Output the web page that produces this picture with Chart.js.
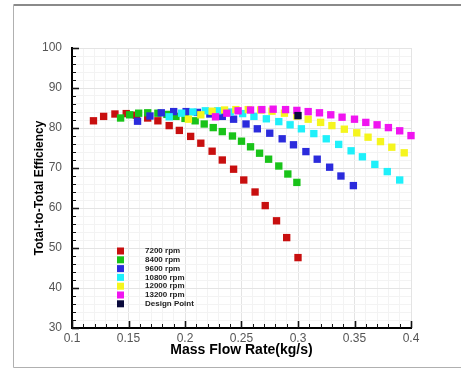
<!DOCTYPE html>
<html>
<head>
<meta charset="utf-8">
<script src="https://cdn.jsdelivr.net/npm/chart.js@4/dist/chart.umd.min.js"></script>
<style>
    body { margin: 0; background: #fff; }
    #chartBox { position: relative; width: 461px; height: 368px; }
</style>
</head>
<body>
<div id="chartBox"><canvas id="effChart" width="461" height="368"></canvas></div>
<script>
// series names (legend order)
const seriesNames = ['7200 rpm', '8400 rpm', '9600 rpm', '10800 rpm', '12000 rpm', '13200 rpm', 'Design Point'];
const seriesColors = ['#c80f0f', '#19c319', '#2b2bdc', '#1ff0fa', '#f5f51e', '#f014f0', '#0a0a3c'];

// mass flow rate (kg/s) and total-to-total efficiency (%) per speed line
const flow7200 = [0.119, 0.128, 0.138, 0.148, 0.157, 0.167, 0.176, 0.186, 0.195, 0.205, 0.214, 0.224, 0.233, 0.243, 0.252, 0.262, 0.271, 0.281, 0.290, 0.300];
const eff7200 = [81.8, 82.9, 83.5, 83.6, 83.2, 82.5, 81.8, 80.6, 79.4, 77.9, 76.2, 74.2, 72.0, 69.7, 67.0, 64.0, 60.6, 56.8, 52.6, 47.6];

const flow8400 = [0.143, 0.151, 0.159, 0.167, 0.176, 0.184, 0.192, 0.200, 0.209, 0.217, 0.225, 0.233, 0.242, 0.250, 0.258, 0.266, 0.274, 0.283, 0.291, 0.299];
const eff8400 = [82.5, 83.3, 83.7, 83.8, 83.7, 83.4, 82.9, 82.4, 81.8, 81.0, 80.1, 79.1, 78.0, 76.7, 75.3, 73.7, 72.2, 70.5, 68.5, 66.4];

const flow9600 = [0.158, 0.169, 0.179, 0.190, 0.201, 0.211, 0.222, 0.233, 0.243, 0.254, 0.264, 0.275, 0.286, 0.296, 0.307, 0.317, 0.328, 0.338, 0.349];
const eff9600 = [81.7, 83.0, 83.8, 84.1, 84.1, 83.9, 83.5, 82.9, 82.2, 81.0, 79.8, 78.7, 77.3, 75.8, 74.1, 72.2, 70.2, 68.0, 65.6];

const flow10800 = [0.186, 0.197, 0.207, 0.218, 0.229, 0.240, 0.251, 0.261, 0.272, 0.283, 0.293, 0.303, 0.314, 0.325, 0.336, 0.347, 0.357, 0.368, 0.379, 0.390];
const eff10800 = [82.8, 83.7, 84.0, 84.3, 84.3, 84.0, 83.6, 82.9, 82.3, 81.6, 80.8, 79.8, 78.6, 77.3, 75.9, 74.3, 72.8, 70.9, 69.1, 67.0];

const flow12000 = [0.203, 0.214, 0.224, 0.235, 0.245, 0.256, 0.267, 0.277, 0.288, 0.299, 0.309, 0.320, 0.330, 0.341, 0.352, 0.362, 0.373, 0.383, 0.394];
const eff12000 = [82.2, 83.3, 84.2, 84.5, 84.6, 84.6, 84.5, 84.2, 83.7, 83.0, 82.2, 81.4, 80.6, 79.7, 78.8, 77.7, 76.6, 75.2, 73.8];

const flow13200 = [0.227, 0.237, 0.247, 0.258, 0.268, 0.278, 0.289, 0.299, 0.309, 0.319, 0.329, 0.339, 0.350, 0.360, 0.370, 0.380, 0.390, 0.400];
const eff13200 = [82.8, 83.7, 84.3, 84.5, 84.6, 84.7, 84.6, 84.4, 84.1, 83.8, 83.3, 82.7, 82.2, 81.4, 80.8, 80.1, 79.3, 78.1];

const designFlow = [0.300];
const designEff = [83.1];

const allFlows = [flow7200, flow8400, flow9600, flow10800, flow12000, flow13200, designFlow];
const allEffs = [eff7200, eff8400, eff9600, eff10800, eff12000, eff13200, designEff];

function toPoints(xs, ys) {
    return xs.map((x, i) => ({ x: x, y: ys[i] }));
}

const datasets = seriesNames.map((name, i) => ({
    label: name,
    data: toPoints(allFlows[i], allEffs[i]),
    backgroundColor: seriesColors[i],
    borderColor: seriesColors[i],
    borderWidth: 0,
    pointStyle: 'rect',
    pointRadius: 5.2,
    pointHoverRadius: 5.2,
    clip: false,
    order: seriesNames.length - 1 - i   // later series sit on top
}));

function isMajorX(v) { return Math.round(v * 100) % 5 === 0; }
function isMajorY(v) { return Math.round(v) % 10 === 0; }

// frame around the figure, in-pointing tick marks and the inset legend
const decorPlugin = {
    id: 'decor',
    beforeDraw(chart) {
        const ctx = chart.ctx;
        ctx.save();
        ctx.fillStyle = '#fff';
        ctx.fillRect(0, 0, chart.width, chart.height);
        ctx.strokeStyle = '#8a8a8a';
        ctx.lineWidth = 2;
        ctx.beginPath();
        ctx.moveTo(461, 5);
        ctx.lineTo(13.5, 5);
        ctx.stroke();
        ctx.strokeStyle = '#b0b0b0';
        ctx.lineWidth = 1;
        ctx.beginPath();
        ctx.moveTo(13.5, 5);
        ctx.lineTo(13.5, 367.5);
        ctx.lineTo(461, 367.5);
        ctx.stroke();
        ctx.restore();
    },
    afterDatasetsDraw(chart) {
        const ctx = chart.ctx;
        const xs = chart.scales.x;
        const ys = chart.scales.y;
        const area = chart.chartArea;
        ctx.save();
        ctx.strokeStyle = '#111';
        xs.ticks.forEach(t => {
            const px = Math.round(xs.getPixelForValue(t.value)) + 0.5;
            const major = isMajorX(t.value);
            ctx.lineWidth = major ? 1.6 : 1;
            ctx.beginPath();
            ctx.moveTo(px, area.bottom);
            ctx.lineTo(px, area.bottom - (major ? 7 : 4));
            ctx.stroke();
        });
        ys.ticks.forEach(t => {
            const py = Math.round(ys.getPixelForValue(t.value)) + 0.5;
            const major = isMajorY(t.value);
            ctx.lineWidth = major ? 1.6 : 1;
            ctx.beginPath();
            ctx.moveTo(area.left, py);
            ctx.lineTo(area.left + (major ? 7 : 4), py);
            ctx.stroke();
        });

        // legend
        ctx.font = 'bold 8px "Liberation Sans", Arial, sans-serif';
        ctx.textBaseline = 'middle';
        ctx.textAlign = 'left';
        chart.data.datasets.forEach((ds, i) => {
            const y = 251 + i * 8.8;
            ctx.fillStyle = ds.backgroundColor;
            ctx.fillRect(117, y - 3.5, 7, 7);
            ctx.fillStyle = '#222';
            ctx.fillText(ds.label, 145, y);
        });
        ctx.restore();
    }
};

const ctx = document.getElementById('effChart').getContext('2d');

const effChart = new Chart(ctx, {
    type: 'scatter',
    data: { datasets: datasets },
    plugins: [decorPlugin],
    options: {
        responsive: false,
        animation: false,
        layout: { padding: { top: 48, right: 50, left: 0, bottom: 0 } },
        plugins: {
            legend: { display: false },
            tooltip: { enabled: false }
        },
        scales: {
            x: {
                type: 'linear',
                min: 0.1,
                max: 0.4,
                afterFit: function (scale) { scale.height = 40; },
                border: { display: true, color: '#000', width: 2 },
                grid: {
                    drawTicks: false,
                    color: c => isMajorX(c.tick.value) ? '#e4e4e4' : '#f3f3f3',
                    lineWidth: 1
                },
                ticks: {
                    stepSize: 0.01,
                    autoSkip: false,
                    maxRotation: 0,
                    padding: 3,
                    color: '#555',
                    font: { family: '"Liberation Sans", Arial, sans-serif', size: 12 },
                    callback: v => isMajorX(v) ? String(Math.round(v * 100) / 100) : ''
                },
                title: {
                    display: true,
                    text: 'Mass Flow Rate(kg/s)',
                    color: '#000',
                    font: { family: '"Liberation Sans", Arial, sans-serif', size: 14, weight: 'bold' },
                    padding: { top: 0, bottom: 9 }
                }
            },
            y: {
                type: 'linear',
                min: 30,
                max: 100,
                afterFit: function (scale) { scale.width = 72; },
                border: { display: true, color: '#000', width: 2 },
                grid: {
                    drawTicks: false,
                    color: c => isMajorY(c.tick.value) ? '#e4e4e4' : '#f3f3f3',
                    lineWidth: 1
                },
                ticks: {
                    stepSize: 2,
                    autoSkip: false,
                    padding: 10,
                    color: '#555',
                    font: { family: '"Liberation Sans", Arial, sans-serif', size: 12 },
                    callback: v => isMajorY(v) ? String(Math.round(v)) : ''
                },
                title: {
                    display: true,
                    text: 'Total-to-Total Efficiency',
                    color: '#000',
                    font: { family: '"Liberation Sans", Arial, sans-serif', size: 12, weight: 'bold' },
                    padding: { top: 32, bottom: 0 }
                }
            }
        }
    }
});
</script>
</body>
</html>
